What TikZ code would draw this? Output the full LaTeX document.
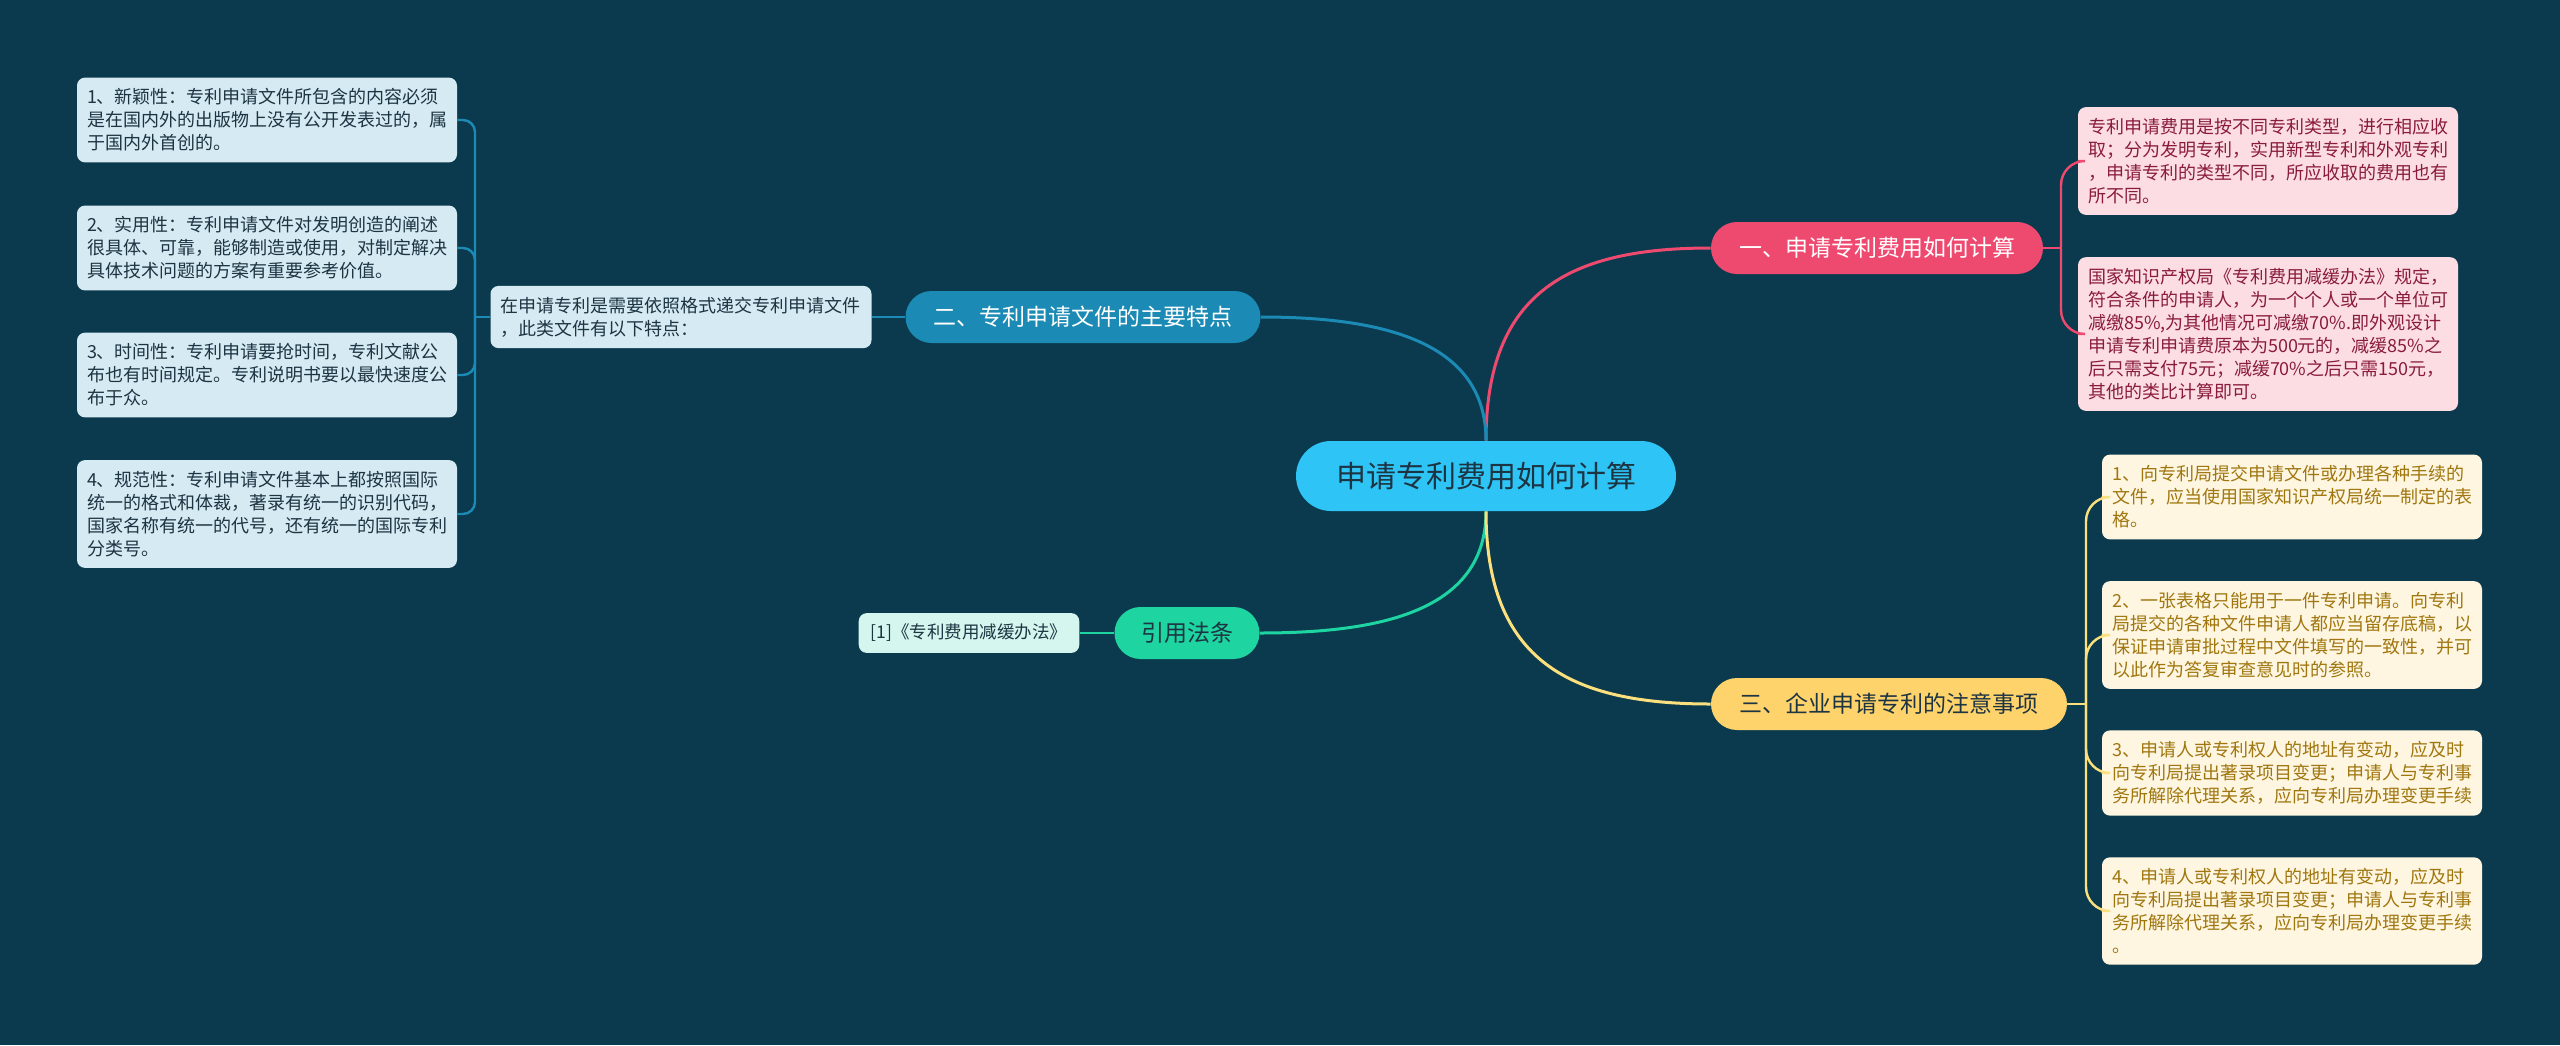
\documentclass[tikz,border=0pt]{standalone}
\usepackage{fontspec}
\setmainfont{Noto Sans CJK SC}
\definecolor{bg}{HTML}{0B3A4E}
\definecolor{cfill}{HTML}{2EC5F6}
\definecolor{ctext}{HTML}{1D3442}
\definecolor{pinkc}{HTML}{EE4A70}
\definecolor{bluec}{HTML}{1B8AB4}
\definecolor{yellowc}{HTML}{FFD36B}
\definecolor{yline}{HTML}{FCE07E}
\definecolor{greenc}{HTML}{1ED4A1}
\definecolor{bleaf}{HTML}{D5EAF2}
\definecolor{pleaf}{HTML}{FCDDE4}
\definecolor{ptext}{HTML}{8A1C3B}
\definecolor{yleaf}{HTML}{FEF6E0}
\definecolor{ytext}{HTML}{A0760F}
\definecolor{gleaf}{HTML}{D4F6EE}
\tikzset{
  leafbox/.style={rounded corners=4pt, text width=180pt, align=left, inner xsep=5pt, inner ysep=5.5pt,
    font=\fontsize{9pt}{11.5pt}\selectfont},
  bluebox/.style={leafbox, fill=bleaf, text=ctext},
  pinkbox/.style={leafbox, fill=pleaf, text=ptext},
  yellowbox/.style={leafbox, fill=yleaf, text=ytext},
  branchbox/.style={rounded corners=13pt, minimum height=26pt, inner xsep=14pt,
    font=\fontsize{11.5pt}{14pt}\selectfont},
  mainline/.style={line width=1.5pt},
  subline/.style={line width=1.2pt, rounded corners=6pt},
}
\begin{document}
\begin{tikzpicture}[x=0.5pt, y=-0.5pt]
\useasboundingbox (0,0) rectangle (2560,1045);
\fill[bg] (0,0) rectangle (2560,1045);

% center
\node[fill=cfill, text=ctext, rounded corners=17.5pt, minimum height=35pt, minimum width=190pt,
  font=\fontsize{15pt}{18pt}\selectfont] (c) at (1486,476) {申请专利费用如何计算};

% branches
\node[branchbox, fill=pinkc, text=white, minimum width=166pt] (b1) at (1877,248) {一、申请专利费用如何计算};
\node[branchbox, fill=bluec, text=white, minimum width=177pt] (b2) at (1083,317) {二、专利申请文件的主要特点};
\node[branchbox, fill=yellowc, text=ctext, minimum width=178pt] (b3) at (1889,704) {三、企业申请专利的注意事项};
\node[branchbox, fill=greenc, text=ctext, minimum width=72.5pt, inner xsep=10pt] (b4) at (1187,633) {引用法条};

% main connectors
\draw[mainline, pinkc] (c.north) .. controls +(0,-150) and +(-140,0) .. (b1.west);
\draw[mainline, bluec] (c.north) .. controls +(0,-100) and +(120,0) .. (b2.east);
\draw[mainline, greenc] (c.south) .. controls +(0,100) and +(120,0) .. (b4.east);
\draw[mainline, yline] (c.south) .. controls +(0,150) and +(-140,0) .. (b3.west);

% branch 2 subtree
\node[bluebox, text width=180.5pt] (inter) at (681,317) {在申请专利是需要依照格式递交专利申请文件\\，此类文件有以下特点：};
\node[bluebox] (l1) at (267,120) {1、新颖性：专利申请文件所包含的内容必须\\是在国内外的出版物上没有公开发表过的，属\\于国内外首创的。};
\node[bluebox] (l2) at (267,248) {2、实用性：专利申请文件对发明创造的阐述\\很具体、可靠，能够制造或使用，对制定解决\\具体技术问题的方案有重要参考价值。};
\node[bluebox] (l3) at (267,375) {3、时间性：专利申请要抢时间，专利文献公\\布也有时间规定。专利说明书要以最快速度公\\布于众。};
\node[bluebox] (l4) at (267,514) {4、规范性：专利申请文件基本上都按照国际\\统一的格式和体裁，著录有统一的识别代码，\\国家名称有统一的代号，还有统一的国际专利\\分类号。};
\draw[subline, bluec] (b2.west) -- (inter.east);
\coordinate (bj) at (475,317);
\draw[subline, bluec] (inter.west) -- (bj);
\draw[subline, bluec] (bj) |- (l1.east);
\draw[subline, bluec] (bj) |- (l2.east);
\draw[subline, bluec] (bj) |- (l3.east);
\draw[subline, bluec] (bj) |- (l4.east);

% branch 4 subtree
\node[fill=gleaf, text=ctext, rounded corners=4pt, inner xsep=6pt, inner ysep=5.5pt,
  font=\fontsize{8.75pt}{11pt}\selectfont] (ref) at (969,633) {[1]《专利费用减缓办法》};
\draw[subline, greenc] (b4.west) -- (ref.east);

% branch 1 subtree
\node[pinkbox] (p1) at (2268,161) {专利申请费用是按不同专利类型，进行相应收\\取；分为发明专利，实用新型专利和外观专利\\，申请专利的类型不同，所应收取的费用也有\\所不同。};
\node[pinkbox] (p2) at (2268,334) {国家知识产权局《专利费用减缓办法》规定，\\符合条件的申请人，为一个个人或一个单位可\\减缴85\%,为其他情况可减缴70\%.即外观设计\\申请专利申请费原本为500元的，减缓85\%之\\后只需支付75元；减缓70\%之后只需150元，\\其他的类比计算即可。};
\coordinate (pj) at (2061,248);
\draw[subline, pinkc] (b1.east) -- (pj);
\draw[subline, pinkc, rounded corners=12pt] (pj) |- (p1.west);
\draw[subline, pinkc, rounded corners=12pt] (pj) |- (p2.west);

% branch 3 subtree
\node[yellowbox] (y1) at (2292,497) {1、向专利局提交申请文件或办理各种手续的\\文件，应当使用国家知识产权局统一制定的表\\格。};
\node[yellowbox] (y2) at (2292,635) {2、一张表格只能用于一件专利申请。向专利\\局提交的各种文件申请人都应当留存底稿，以\\保证申请审批过程中文件填写的一致性，并可\\以此作为答复审查意见时的参照。};
\node[yellowbox] (y3) at (2292,773) {3、申请人或专利权人的地址有变动，应及时\\向专利局提出著录项目变更；申请人与专利事\\务所解除代理关系，应向专利局办理变更手续};
\node[yellowbox] (y4) at (2292,911) {4、申请人或专利权人的地址有变动，应及时\\向专利局提出著录项目变更；申请人与专利事\\务所解除代理关系，应向专利局办理变更手续\\。};
\coordinate (yj) at (2086,704);
\draw[subline, yline] (b3.east) -- (yj);
\draw[subline, yline, rounded corners=12pt] (yj) |- (y1.west);
\draw[subline, yline, rounded corners=12pt] (yj) |- (y2.west);
\draw[subline, yline, rounded corners=12pt] (yj) |- (y3.west);
\draw[subline, yline, rounded corners=12pt] (yj) |- (y4.west);
\end{tikzpicture}
\end{document}
